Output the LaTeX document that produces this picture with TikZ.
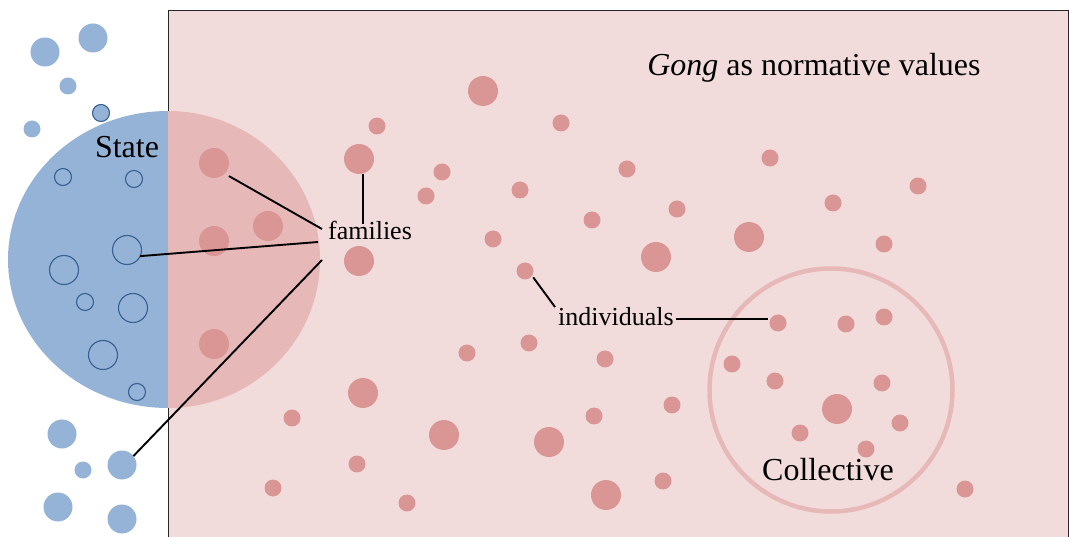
\documentclass[tikz,border=0pt]{standalone}
\usepackage{fontspec}
\setmainfont{Liberation Serif}
\definecolor{rectbg}{HTML}{F2DCDB}
\definecolor{halfred}{HTML}{E6B9B8}
\definecolor{dotred}{HTML}{D99694}
\definecolor{bluefill}{HTML}{95B3D7}
\definecolor{blueline}{HTML}{376092}
\begin{document}
\begin{tikzpicture}[x=1pt,y=-1pt,
  rbig/.style={circle,fill=dotred,inner sep=0pt,outer sep=0pt,minimum size=30pt},
  rsmall/.style={circle,fill=dotred,inner sep=0pt,outer sep=0pt,minimum size=17pt},
  bbig/.style={circle,fill=bluefill,inner sep=0pt,outer sep=0pt,minimum size=29pt},
  bring/.style={circle,draw=blueline,line width=1.1pt,inner sep=0pt,outer sep=0pt,minimum size=29pt},
  conn/.style={draw=black,line width=1.9pt},
  biglabel/.style={font=\fontsize{32}{36}\selectfont,inner sep=0pt,anchor=base},
  smalllabel/.style={font=\fontsize{26}{30}\selectfont,inner sep=2pt,anchor=base}]
\useasboundingbox (0,0) rectangle (1069,537);
% frame
\fill[rectbg] (168,10.5) rectangle (1068,545);
\draw[black!85,line width=0.9pt] (168,545) -- (168,10.5) -- (1068,10.5) -- (1068,545);
% state circle halves
\fill[bluefill] (168,111) arc[start angle=270,end angle=90,x radius=160,y radius=148.5] -- cycle;
\fill[halfred] (168,111) arc[start angle=-90,end angle=90,x radius=152,y radius=148.5] -- cycle;
% collective ring
\draw[halfred,line width=4.5pt] (831,390) circle[radius=121.5];
% blue dots outside
\foreach \p in {(45,52),(93,38),(62,434),(58,507),(122,519)}
  \fill[bluefill] \p circle[radius=14.5];
\foreach \p in {(68,86),(32,129),(83,470)}
  \fill[bluefill] \p circle[radius=8.5];
\node[bbig] (bd3) at (122,465) {};
\filldraw[fill=bluefill,draw=blueline,line width=1.1pt] (101,113) circle[radius=8.5];
% outlined circles inside the state
\foreach \p in {(64,270),(133,308),(103,355)}
  \draw[blueline,line width=1.1pt] \p circle[radius=14.5];
\foreach \p in {(63,177),(134,179),(85,302),(137,392)}
  \draw[blueline,line width=1.1pt] \p circle[radius=8.5];
\node[bring] (bo3) at (127,250) {};
% red dots
\foreach \p in {(268,226),(214,241),(214,344),(483,91),(359,261),(656,257),(749,237),(363,393),(444,435),(549,442),(606,495),(837,409)}
  \fill[dotred] \p circle[radius=15];
\foreach \p in {(377,126),(442,172),(426,196),(520,190),(561,123),(627,169),(592,220),(677,209),(493,239),(770,158),(833,203),(918,186),(884,244),(467,353),(529,343),(605,359),(292,418),(594,416),(672,405),(357,464),(273,488),(407,503),(663,481),(846,324),(884,317),(732,364),(775,381),(882,383),(800,433),(900,423),(866,449),(965,489)}
  \fill[dotred] \p circle[radius=8.5];
\node[rbig] (rA) at (214,163) {};
\node[rbig] (rF) at (359,159) {};
\node[rsmall] (rI) at (525,271) {};
\node[rsmall] (rJ) at (778,323) {};
% labels
\node[biglabel] (title) at (814,75.5) {\textit{Gong} as normative values};
\node[biglabel] (state) at (127,158) {State};
\node[biglabel] (coll) at (828,480) {Collective};
\node[smalllabel] (fam) at (370,240) {families};
\node[smalllabel] (ind) at (616,326) {individuals};
% connector ends
\coordinate (fa1) at (322,229);
\coordinate (fa2) at (318,242);
\coordinate (fa3) at (322,260);
\coordinate (fa4) at (363,224);
\coordinate (in1) at (555,307);
% connectors
\draw[conn,shorten <=5pt] (rA.-45) -- (fa1);
\draw[conn] (bo3.-25) -- (fa2);
\draw[conn] (bd3.38) -- (fa3);
\draw[conn] ([xshift=4pt]rF.south) -- (fa4);
\draw[conn,shorten <=2pt] (rI.-34) -- (in1);
\draw[conn,shorten >=2pt] ([yshift=-2pt]ind.east) -- ([yshift=-2pt]ind.east -| rJ.west);
\end{tikzpicture}
\end{document}
